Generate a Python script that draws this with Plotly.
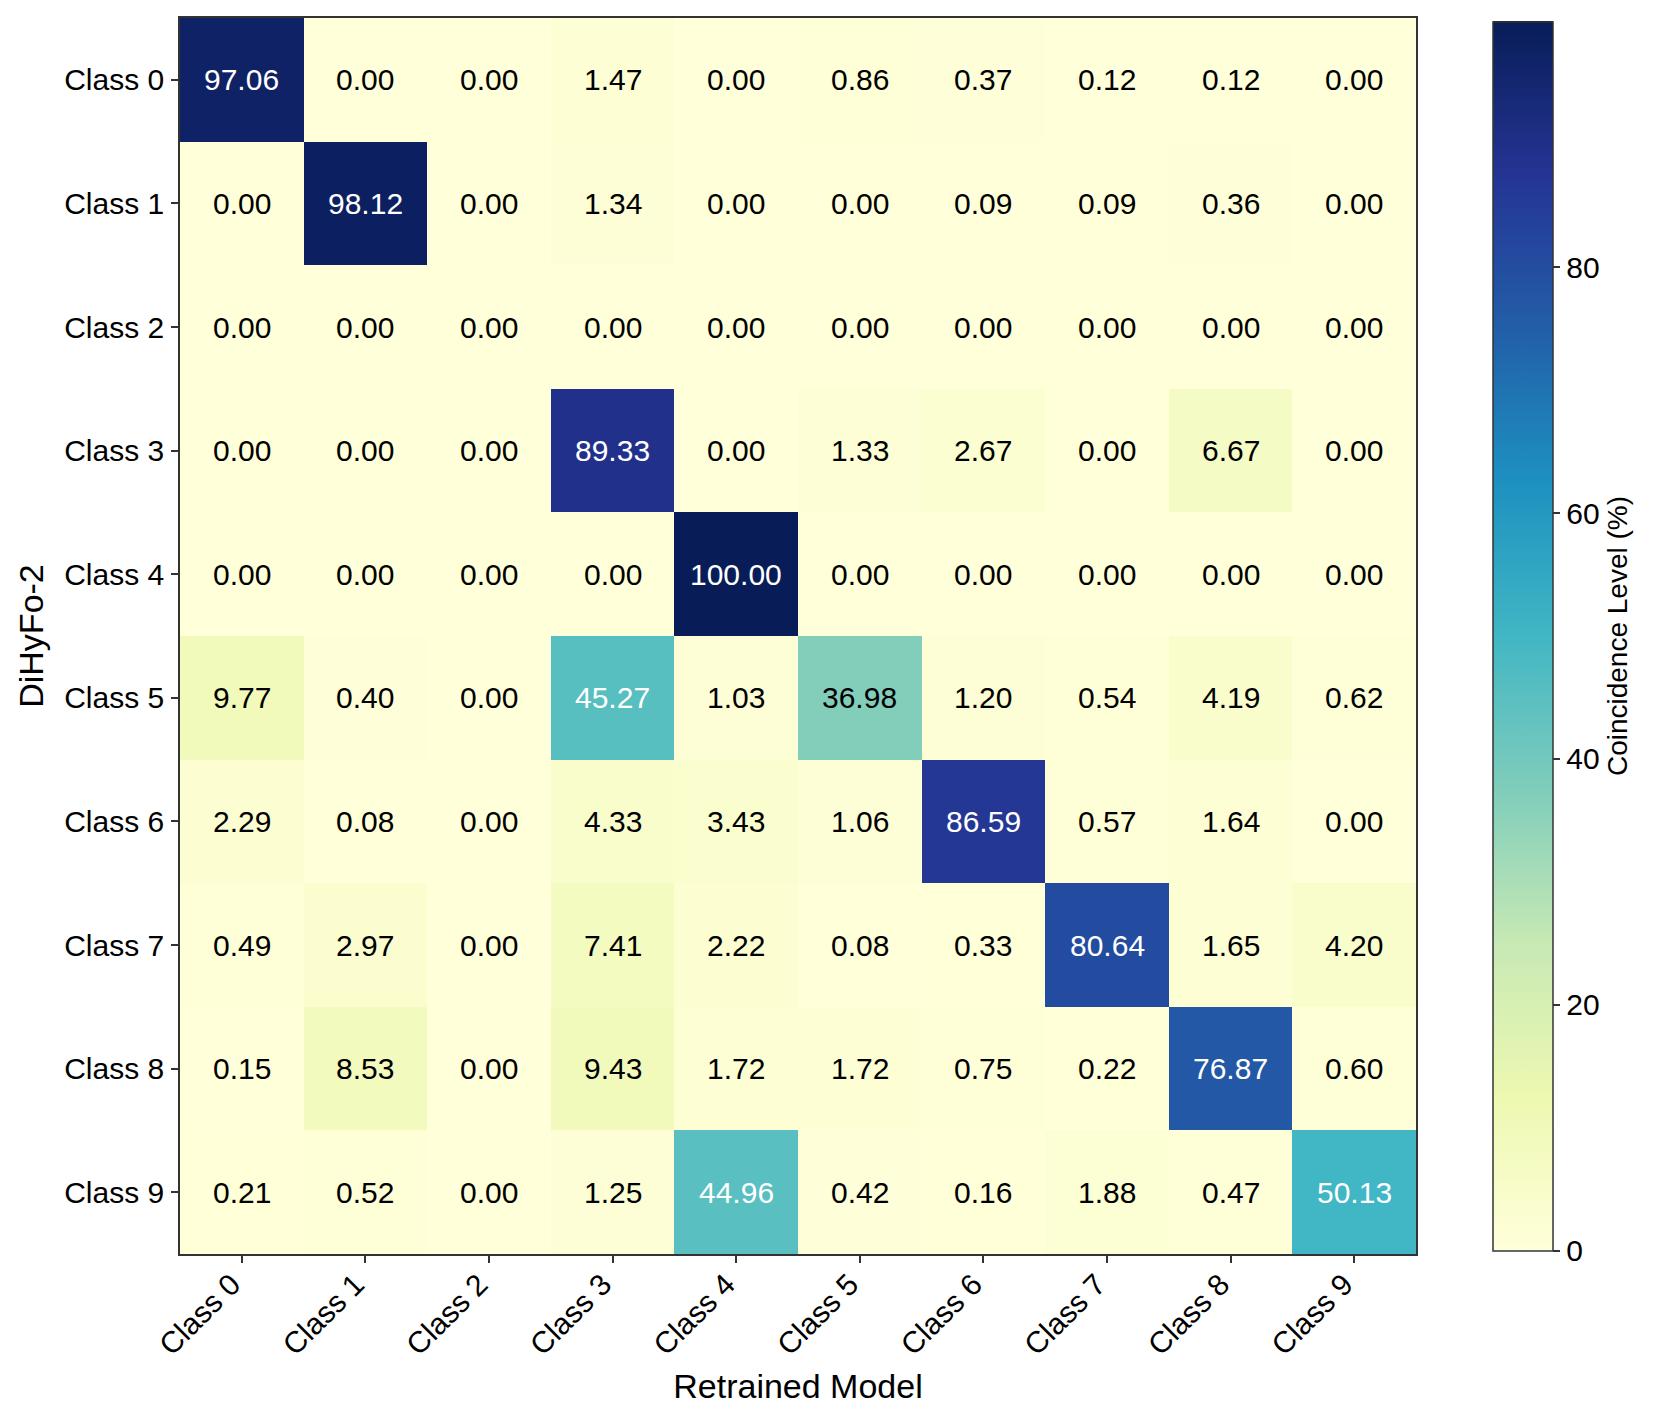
import plotly.graph_objects as go

# confusion matrix values (%) - rows: DiHyFo-2, columns: retrained model
classes = ["Class 0", "Class 1", "Class 2", "Class 3", "Class 4",
           "Class 5", "Class 6", "Class 7", "Class 8", "Class 9"]

row0 = [97.06, 0.00, 0.00, 1.47, 0.00, 0.86, 0.37, 0.12, 0.12, 0.00]
row1 = [0.00, 98.12, 0.00, 1.34, 0.00, 0.00, 0.09, 0.09, 0.36, 0.00]
row2 = [0.00, 0.00, 0.00, 0.00, 0.00, 0.00, 0.00, 0.00, 0.00, 0.00]
row3 = [0.00, 0.00, 0.00, 89.33, 0.00, 1.33, 2.67, 0.00, 6.67, 0.00]
row4 = [0.00, 0.00, 0.00, 0.00, 100.00, 0.00, 0.00, 0.00, 0.00, 0.00]
row5 = [9.77, 0.40, 0.00, 45.27, 1.03, 36.98, 1.20, 0.54, 4.19, 0.62]
row6 = [2.29, 0.08, 0.00, 4.33, 3.43, 1.06, 86.59, 0.57, 1.64, 0.00]
row7 = [0.49, 2.97, 0.00, 7.41, 2.22, 0.08, 0.33, 80.64, 1.65, 4.20]
row8 = [0.15, 8.53, 0.00, 9.43, 1.72, 1.72, 0.75, 0.22, 76.87, 0.60]
row9 = [0.21, 0.52, 0.00, 1.25, 44.96, 0.42, 0.16, 1.88, 0.47, 50.13]

matrix = [row0, row1, row2, row3, row4, row5, row6, row7, row8, row9]

# matplotlib YlGnBu
ylgnbu = ["#ffffd9", "#edf8b1", "#c7e9b4", "#7fcdbb", "#41b6c4",
          "#1d91c0", "#225ea8", "#253494", "#081d58"]
colorscale = [[i / (len(ylgnbu) - 1), c] for i, c in enumerate(ylgnbu)]

FONT = "Liberation Sans, Arial, sans-serif"

fig = go.Figure(go.Heatmap(
    z=matrix,
    x=classes,
    y=classes,
    colorscale=colorscale,
    zmin=0,
    zmax=100,
    hoverinfo="skip",
    colorbar=dict(
        x=1.0623, xanchor="left", xref="paper", xpad=0,
        y=0.5, yanchor="middle", len=0.994, lenmode="fraction", ypad=0,
        thickness=60,
        outlinecolor="#333333", outlinewidth=1.5,
        tickvals=[0, 20, 40, 60, 80],
        ticks="outside", ticklen=7, tickcolor="#333333", tickwidth=1.5,
        tickfont=dict(size=30, color="black", family=FONT),
        title=dict(text="Coincidence Level (%)", side="right",
                   font=dict(size=28, color="black", family=FONT)),
    ),
))

# cell labels, white on dark cells
for i, row in enumerate(matrix):
    for j, v in enumerate(row):
        fig.add_annotation(
            x=classes[j], y=classes[i], text=f"{v:.2f}",
            showarrow=False,
            font=dict(size=30, family=FONT,
                      color="white" if v > 40 else "black"),
        )

fig.update_xaxes(
    title=dict(text="Retrained Model", font=dict(size=34, color="black", family=FONT),
               standoff=14),
    tickangle=-45,
    tickfont=dict(size=30, color="black", family=FONT),
    ticks="outside", ticklen=7, tickcolor="#333333", tickwidth=1.5,
    ticklabelstandoff=-8,
    ticklabelshift=-10,
    showline=True, linecolor="#333333", linewidth=1.5, mirror=True,
    showgrid=False, zeroline=False,
)
fig.update_yaxes(
    title=dict(text="DiHyFo-2", font=dict(size=34, color="black", family=FONT),
               standoff=10),
    autorange="reversed",
    tickfont=dict(size=30, color="black", family=FONT),
    ticks="outside", ticklen=7, tickcolor="#333333", tickwidth=1.5,
    ticklabelstandoff=1,
    showline=True, linecolor="#333333", linewidth=1.5, mirror=True,
    showgrid=False, zeroline=False,
)

# page body has an 8px margin, so the figure is shrunk by that much
fig.update_layout(
    width=1653,
    height=1416,
    margin=dict(l=172, r=245, t=10, b=170, autoexpand=False),
    plot_bgcolor="white",
    paper_bgcolor="white",
    font=dict(family=FONT, color="black"),
)

fig.write_html("out.html")
